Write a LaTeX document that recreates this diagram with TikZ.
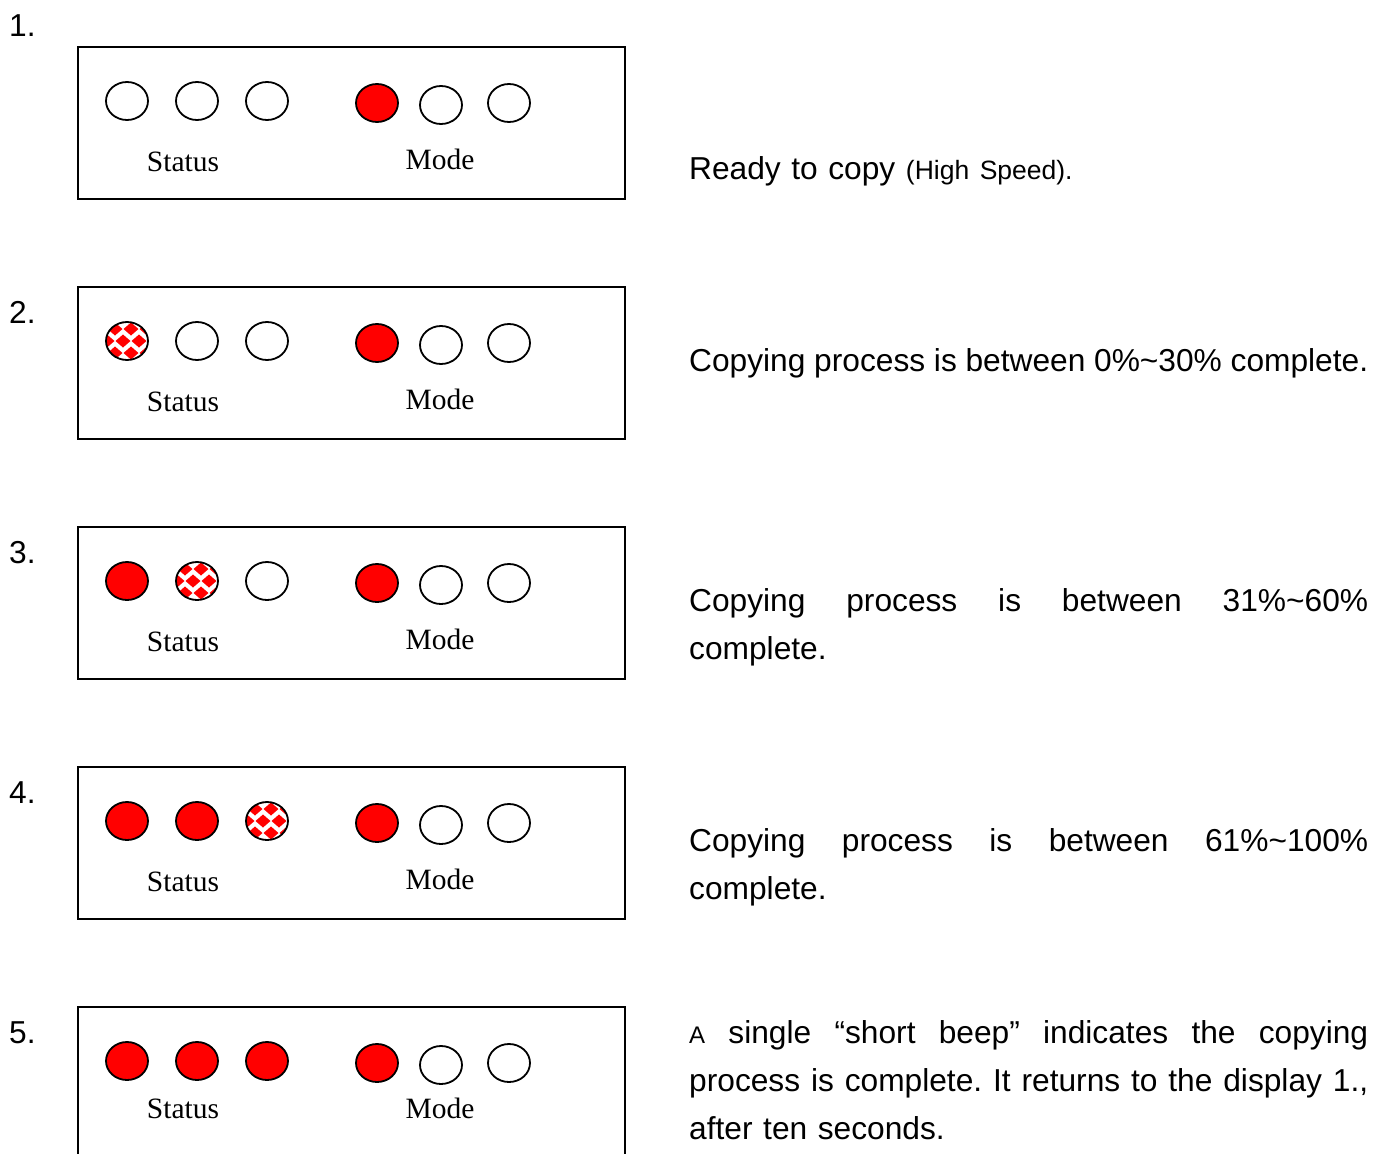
\documentclass[tikz,border=0pt]{standalone}
\usepackage{fontspec}
\setmainfont{Liberation Sans}
\newfontfamily\ledfont{Liberation Serif}
\usetikzlibrary{shapes.geometric}
\frenchspacing

\begin{document}
\begin{tikzpicture}[x=1pt,y=-1pt,
  panel/.style={draw, line width=1.5pt, minimum width=547pt, minimum height=152pt, inner sep=0pt},
  led/.style={draw, ellipse, line width=1.8pt, minimum width=42pt, minimum height=38pt, inner sep=0pt, fill=white},
  ledon/.style={led, fill=red},
  ledhalf/.style={led, path picture={
      \foreach \r in {-2,...,2}
        \foreach \c in {-2,...,2}
          \fill[red] ([shift={({\c*16+8*mod(\r+4,2)-4},{\r*12})}]path picture bounding box.center)
            +(0,-6.5) -- +(7.5,0) -- +(0,6.5) -- +(-7.5,0) -- cycle;
    }},
  lbl/.style={font=\ledfont\fontsize{29.5}{30}\selectfont, inner sep=0pt, anchor=base},
  num/.style={font=\fontsize{31.7}{36}\selectfont, inner sep=0pt, anchor=base west},
  desc/.style={font=\fontsize{31.7}{48}\selectfont, inner sep=0pt, anchor=base west, text width=679pt, align=left}]
\useasboundingbox (0,0) rectangle (1390,1154);

% 1.
\node[num] (n1) at (9,36) {1.};
\node[panel] (p1) at (351.5,123) {};
\node[led] (s1a) at (127,101) {};
\node[led] (s1b) at (197,101) {};
\node[led] (s1c) at (267,101) {};
\node[ledon] (m1a) at (377,103) {};
\node[led] (m1b) at (441,105) {};
\node[led] (m1c) at (509,103) {};
\node[lbl] (ls1) at (183,171) {Status};
\node[lbl] (lm1) at (440,169) {Mode};
\node[desc] (t1) at (689,179) {Ready to copy {\fontsize{26.5}{48}\selectfont(High Speed).}};

% 2.
\node[num] (n2) at (9,323) {2.};
\node[panel] (p2) at (351.5,363) {};
\node[ledhalf] (s2a) at (127,341) {};
\node[led] (s2b) at (197,341) {};
\node[led] (s2c) at (267,341) {};
\node[ledon] (m2a) at (377,343) {};
\node[led] (m2b) at (441,345) {};
\node[led] (m2c) at (509,343) {};
\node[lbl] (ls2) at (183,411) {Status};
\node[lbl] (lm2) at (440,409) {Mode};
\node[desc] (t2) at (689,371) {\makebox[679pt][s]{Copying\hfill process\hfill is\hfill between\hfill 0\%\textasciitilde30\%\hfill complete.}};

% 3.
\node[num] (n3) at (9,563) {3.};
\node[panel] (p3) at (351.5,603) {};
\node[ledon] (s3a) at (127,581) {};
\node[ledhalf] (s3b) at (197,581) {};
\node[led] (s3c) at (267,581) {};
\node[ledon] (m3a) at (377,583) {};
\node[led] (m3b) at (441,585) {};
\node[led] (m3c) at (509,583) {};
\node[lbl] (ls3) at (183,651) {Status};
\node[lbl] (lm3) at (440,649) {Mode};
\node[desc] (t3) at (689,611) {\makebox[679pt][s]{Copying\hfill process\hfill is\hfill between\hfill 31\%\textasciitilde60\%}\\complete.};

% 4.
\node[num] (n4) at (9,803) {4.};
\node[panel] (p4) at (351.5,843) {};
\node[ledon] (s4a) at (127,821) {};
\node[ledon] (s4b) at (197,821) {};
\node[ledhalf] (s4c) at (267,821) {};
\node[ledon] (m4a) at (377,823) {};
\node[led] (m4b) at (441,825) {};
\node[led] (m4c) at (509,823) {};
\node[lbl] (ls4) at (183,891) {Status};
\node[lbl] (lm4) at (440,889) {Mode};
\node[desc] (t4) at (689,851) {\makebox[679pt][s]{Copying\hfill process\hfill is\hfill between\hfill 61\%\textasciitilde100\%}\\complete.};

% 5.
\node[num] (n5) at (9,1043) {5.};
\node[panel] (p5) at (351.5,1083) {};
\node[ledon] (s5a) at (127,1061) {};
\node[ledon] (s5b) at (197,1061) {};
\node[ledon] (s5c) at (267,1061) {};
\node[ledon] (m5a) at (377,1063) {};
\node[led] (m5b) at (441,1065) {};
\node[led] (m5c) at (509,1063) {};
\node[lbl] (ls5) at (183,1118) {Status};
\node[lbl] (lm5) at (440,1118) {Mode};
\node[desc] (t5) at (689,1043) {\makebox[679pt][s]{{\fontsize{24}{48}\selectfont A}\hfill single\hfill “short\hfill beep”\hfill indicates\hfill the\hfill copying}\\
  \makebox[679pt][s]{process\hfill is\hfill complete.\hfill It\hfill returns\hfill to\hfill the\hfill display\hfill 1.,}\\
  after ten seconds.};
\end{tikzpicture}
\end{document}
